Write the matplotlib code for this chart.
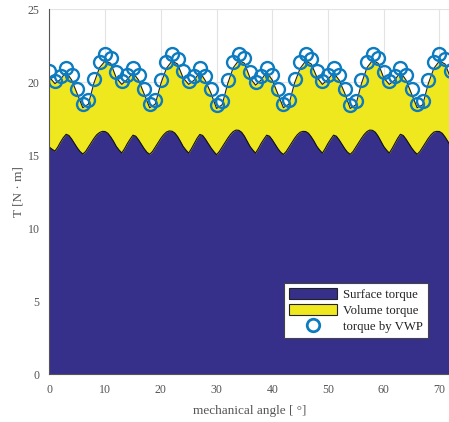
import numpy as np
import matplotlib
matplotlib.use('Agg')
import matplotlib.pyplot as plt
from matplotlib.patches import Patch
from matplotlib.lines import Line2D

plt.rcParams['font.family'] = ['Liberation Serif', 'DejaVu Serif']

############################################################
# Data

# surface torque, sampled every 0.5 deg [N.m]
surfaceAngle = np.arange(0, 72.5, 0.5)
surfaceTorque = [
    15.55, 15.4, 15.28, 15.55, 15.9, 16.2, 16.43, 16.35, 16.1, 15.8, 15.5, 15.25,
    15.08, 15.25, 15.55, 15.85, 16.15, 16.4, 16.55, 16.63, 16.62, 16.5, 16.25, 15.95,
    15.6, 15.35, 15.15, 15.45, 15.8, 16.1, 16.37, 16.3, 16.05, 15.75, 15.45, 15.2,
    15.06, 15.25, 15.55, 15.85, 16.15, 16.4, 16.58, 16.66, 16.64, 16.52, 16.28, 15.95,
    15.6, 15.35, 15.14, 15.45, 15.8, 16.15, 16.42, 16.35, 16.1, 15.8, 15.5, 15.25,
    15.03, 15.25, 15.55, 15.85, 16.15, 16.42, 16.62, 16.72, 16.7, 16.57, 16.3, 15.95,
    15.6, 15.35, 15.14, 15.45, 15.8, 16.1, 16.37, 16.3, 16.05, 15.75, 15.45, 15.2,
    15.05, 15.25, 15.55, 15.85, 16.15, 16.4, 16.57, 16.63, 16.62, 16.5, 16.25, 15.95,
    15.6, 15.35, 15.14, 15.45, 15.8, 16.1, 16.37, 16.3, 16.05, 15.75, 15.45, 15.2,
    15.06, 15.25, 15.55, 15.85, 16.15, 16.42, 16.62, 16.72, 16.7, 16.57, 16.3, 15.95,
    15.6, 15.35, 15.14, 15.45, 15.8, 16.15, 16.43, 16.35, 16.1, 15.8, 15.5, 15.25,
    15.06, 15.25, 15.55, 15.85, 16.15, 16.4, 16.58, 16.63, 16.62, 16.5, 16.25, 15.95,
    15.6]

# surface + volume torque (top of the yellow area), every 1 deg
angle = np.arange(0, 73, 1)
totalTorque = [
    20.35, 19.9, 20.2, 20.7, 20.15, 19.2, 18.25, 18.5, 19.95, 21.0, 21.45, 21.3,
    20.3, 19.85, 20.2, 20.65, 20.15, 19.2, 18.25, 18.5, 19.9, 20.95, 21.45, 21.25,
    20.3, 19.85, 20.15, 20.7, 20.1, 19.25, 18.2, 18.45, 19.9, 21.0, 21.5, 21.3,
    20.3, 19.8, 20.15, 20.7, 20.15, 19.2, 18.25, 18.5, 19.95, 20.95, 21.45, 21.25,
    20.35, 19.85, 20.2, 20.65, 20.15, 19.25, 18.2, 18.45, 19.9, 21.0, 21.5, 21.3,
    20.3, 19.85, 20.15, 20.7, 20.15, 19.2, 18.25, 18.45, 19.9, 20.95, 21.45, 21.25,
    20.3]

# torque by virtual work principle, every 1 deg
vwpTorque = [
    20.8, 20.1, 20.45, 21.0, 20.5, 19.55, 18.5, 18.75, 20.2, 21.4, 21.9, 21.65,
    20.7, 20.05, 20.5, 20.95, 20.5, 19.5, 18.5, 18.75, 20.15, 21.35, 21.9, 21.6,
    20.75, 20.05, 20.45, 21.0, 20.45, 19.55, 18.45, 18.7, 20.15, 21.4, 21.95, 21.65,
    20.7, 20.0, 20.45, 21.0, 20.5, 19.5, 18.5, 18.75, 20.2, 21.35, 21.9, 21.6,
    20.75, 20.05, 20.5, 20.95, 20.5, 19.55, 18.45, 18.7, 20.15, 21.4, 21.95, 21.65,
    20.7, 20.05, 20.45, 21.0, 20.5, 19.5, 18.5, 18.7, 20.15, 21.35, 21.9, 21.6,
    20.75]

xTicks = [0, 10, 20, 30, 40, 50, 60, 70]
yTicks = [0, 5, 10, 15, 20, 25]

############################################################
# Plot

blue = '#36308a'
yellow = '#f0e81e'
vwpColor = '#0d7bc0'
textColor = '#555555'

fig = plt.figure(figsize=(4.49, 4.22), dpi=100)
ax = fig.add_axes([0.110, 0.1137, 0.8935, 0.8644])

ax.fill_between(angle, 0, totalTorque, color=yellow, lw=0, zorder=2)
ax.plot(angle, totalTorque, color='#222222', lw=0.8, zorder=3)
ax.fill_between(surfaceAngle, 0, surfaceTorque, color=blue, lw=0, zorder=4)
ax.plot(surfaceAngle, surfaceTorque, color='#111111', lw=0.8, zorder=5)
ax.plot(angle, vwpTorque, 'o', ms=9.3, mfc='none', mec=vwpColor, mew=1.7, zorder=6)

ax.set_xlim(0, 72)
ax.set_ylim(0, 25)
ax.set_xticks(xTicks)
ax.set_yticks(yTicks)
ax.grid(True, color='#e3e3e3', lw=0.8, zorder=0)
ax.set_axisbelow(True)
for s in ['top', 'right']:
    ax.spines[s].set_visible(False)
for s in ['left', 'bottom']:
    ax.spines[s].set_color('#555555')
    ax.spines[s].set_linewidth(0.8)
    ax.spines[s].set_zorder(7)
ax.tick_params(direction='in', length=0, labelsize=8.6, labelcolor=textColor, pad=7)

ax.set_xlabel(r'mechanical angle [ °]', fontsize=9.5, color=textColor, labelpad=7)
ax.set_ylabel(r'T [N · m]', fontsize=9.5, color=textColor, labelpad=2)

handles = [Patch(facecolor=blue, edgecolor='#222222', lw=0.8),
           Patch(facecolor=yellow, edgecolor='#222222', lw=0.8),
           Line2D([], [], ls='none', marker='o', ms=9, mfc='none', mec=vwpColor, mew=2)]
labels = ['Surface torque', 'Volume torque', 'torque by VWP']
leg = ax.legend(handles, labels, loc='lower right', bbox_to_anchor=(0.944, 0.0986),
                fontsize=9.2, fancybox=False, framealpha=1, edgecolor='#444444',
                handlelength=3.8, handleheight=0.9, handletextpad=0.45,
                labelspacing=0.25, borderpad=0.4, borderaxespad=0)
leg.get_frame().set_linewidth(0.8)
leg.set_zorder(10)
for t in leg.get_texts():
    t.set_color('#222222')

fig.savefig('out.png', dpi=100)
